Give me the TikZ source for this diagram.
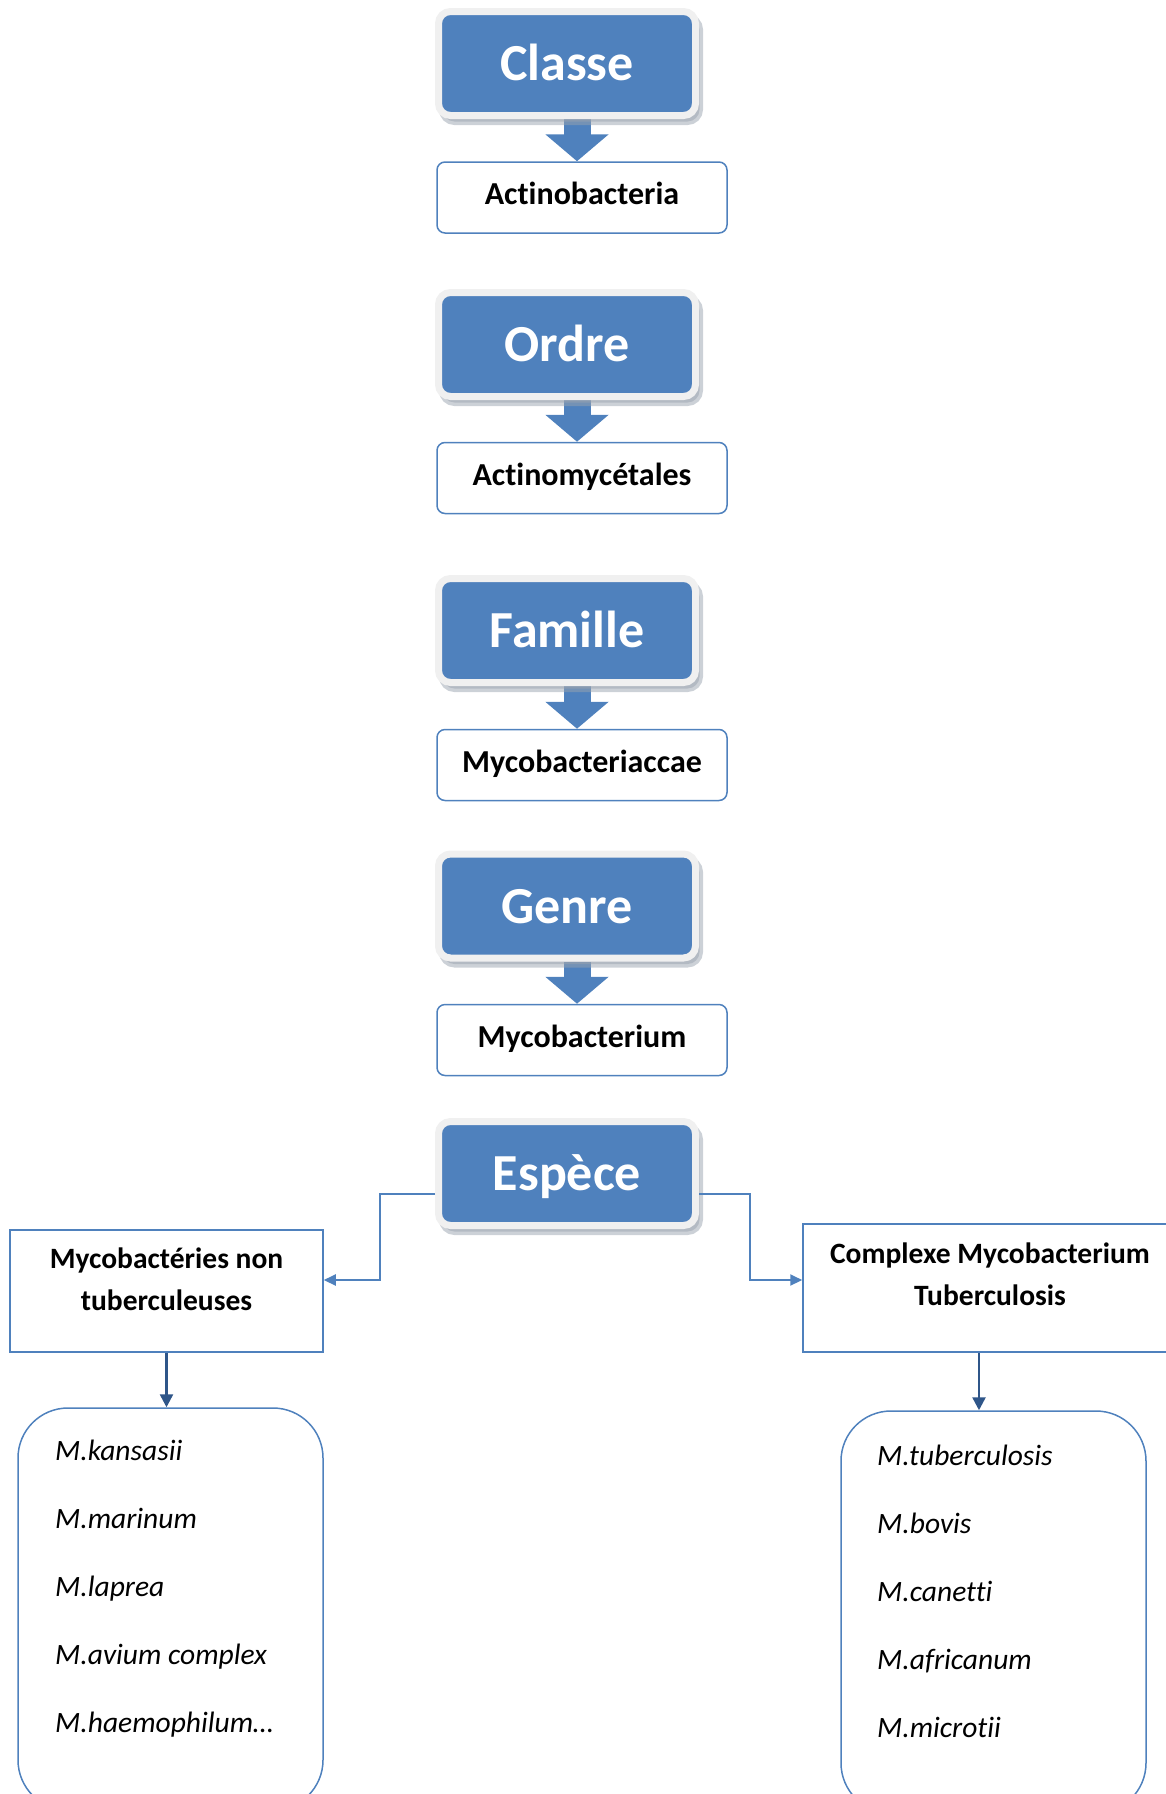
\documentclass[tikz,border=0pt]{standalone}
\usepackage{fontspec}
\setmainfont{Carlito}[Ligatures=NoCommon]
\usetikzlibrary{arrows.meta,shadows,backgrounds}

\definecolor{bleu}{HTML}{4F81BD}
\definecolor{bleufonce}{HTML}{2F5689}
\definecolor{cadre}{HTML}{F0F0F0}
\definecolor{ombre}{HTML}{9AA3AF}

\begin{document}
\begin{tikzpicture}[
    x=1pt, y=-1pt,
    every node/.style={font=\fontsize{30}{42}\selectfont},
    rang/.style={rectangle, fill=bleu, draw=cadre, line width=7pt, rounded corners=12pt, minimum width=257pt, minimum height=104pt, text=white, font=\fontsize{52}{60}\selectfont\bfseries, text height=34pt, text depth=0pt, drop shadow={shadow xshift=4pt, shadow yshift=-6pt, fill=ombre, draw=ombre, line width=7pt}},
    taxon/.style={rectangle, draw=bleu, line width=1.5pt, fill=white, rounded corners=8pt, minimum width=290pt, minimum height=71pt, font=\fontsize{32}{38}\selectfont\bfseries, text height=14pt, text depth=0pt},
    groupe/.style={rectangle, draw=bleu, line width=1.5pt, fill=white},
    titre/.style={font=\fontsize{29.5}{42}\selectfont\bfseries, align=center, inner sep=0pt},
    liste/.style={rectangle, draw=bleu, line width=1.5pt, rounded corners=50pt, minimum width=305pt, minimum height=402pt},
    espece/.style={font=\fontsize{29.5}{34}\selectfont\itshape, anchor=base west, inner sep=0pt},
    fleche/.style={line width=27pt, draw=bleu, -{Triangle[length=27pt 0 0, width=62pt 0 0]}},
    lien/.style={draw=bleu, line width=2pt, -{Triangle[length=12pt 0 0, width=11pt 0 0]}},
    lienbas/.style={draw=bleufonce, line width=2.5pt, -{Triangle[length=13pt 0 0, width=13pt 0 0]}}
]
\useasboundingbox (0,0) rectangle (1166,1794);
\clip (0,0) rectangle (1166,1794);

% Rangs taxonomiques
\node[rang] (classe) at (567,63.5) {Classe};
\node[taxon] (actino) at (582,197.5) {Actinobacteria};
\node[rang] (ordre) at (567,344.5) {Ordre};
\node[taxon] (actinom) at (582,478) {Actinomycétales};
\node[rang] (famille) at (567,630.5) {Famille};
\node[taxon] (mycobac) at (582,765) {Mycobacteriaccae};
\node[rang] (genre) at (567,906) {Genre};
\node[taxon] (myco) at (582,1040) {Mycobacterium};
\node[rang] (espece) at (567,1173.5) {Espèce};

% Les deux groupes
\node[groupe, minimum width=313pt, minimum height=122pt] (nontub) at (166.5,1291) {};
\node[titre] (nontubtxt) at (166.5,1279) {Mycobactéries non\\tuberculeuses};
\node[groupe, minimum width=374pt, minimum height=128pt] (complexe) at (990,1288) {};
\node[titre] (complexetxt) at (990,1274) {Complexe Mycobacterium\\Tuberculosis};

% Listes d'especes
\node[liste] (ntliste) at (170.5,1609) {};
\node[liste] (cxliste) at (993.5,1612) {};
\foreach \nom [count=\i] in {M.kansasii, M.marinum, M.laprea, M.avium complex, M.haemophilum…}
    \node[espece] (nt\i) at (55,{1460+68*(\i-1)}) {\nom};
\foreach \nom [count=\i] in {M.tuberculosis, M.bovis, M.canetti, M.africanum, M.microtii}
    \node[espece] (cx\i) at (877,{1465+68*(\i-1)}) {\nom};

% Fleches
\begin{scope}[on background layer]
\draw[fleche] ([xshift=10pt]classe.south) -- ([xshift=10pt]classe.south |- actino.north);
\draw[fleche] ([xshift=10pt]ordre.south) -- ([xshift=10pt]ordre.south |- actinom.north);
\draw[fleche] ([xshift=10pt]famille.south) -- ([xshift=10pt]famille.south |- mycobac.north);
\draw[fleche] ([xshift=10pt]genre.south) -- ([xshift=10pt]genre.south |- myco.north);
\end{scope}
\draw[lien] ([yshift=-20pt]espece.west) -- ++(-55,0) |- ([yshift=11pt]nontub.east);
\draw[lien] ([yshift=-20pt]espece.east) -- ++(51,0) |- ([yshift=8pt]complexe.west);
\draw[lienbas] (nontub.south) -- (nontub.south |- ntliste.north);
\draw[lienbas] ([xshift=-11pt]complexe.south) -- ([xshift=-11pt]complexe.south |- cxliste.north);

\end{tikzpicture}
\end{document}
